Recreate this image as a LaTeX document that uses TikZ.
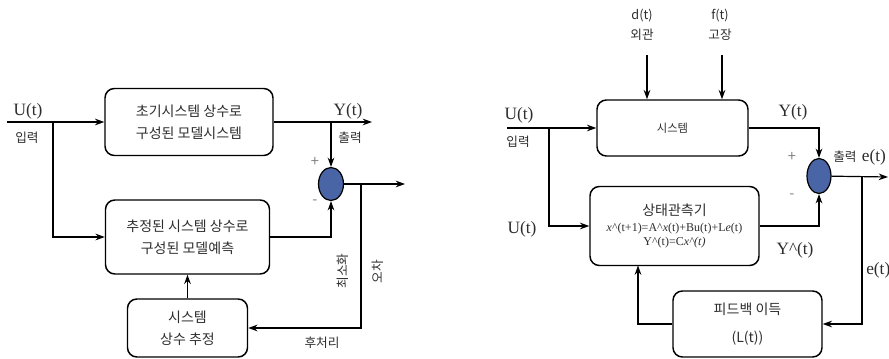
\documentclass[tikz,border=0pt]{standalone}
\usepackage{fontspec}
\setmainfont{Liberation Serif}
\newfontfamily\kfont{Noto Sans CJK KR}
\usepackage{tikz}
\usetikzlibrary{arrows.meta,shapes.geometric,positioning}
\usepackage{xcolor}
\definecolor{sumblue}{RGB}{74,101,166}
\definecolor{inkgray}{RGB}{45,45,45}

\begin{document}
\begin{tikzpicture}[x=0.75pt, y=-0.75pt, >={Stealth[length=7pt,width=5pt]},
  modelbox/.style={draw, line width=1.1pt, rounded corners=7pt, align=center,
    inner sep=0pt, text=inkgray, font=\kfont\fontsize{10.5}{16.5}\selectfont},
  sumnode/.style={draw, ellipse, fill=sumblue, line width=0.9pt, inner sep=0pt},
  sig/.style={inner sep=0pt, text=inkgray, font=\fontsize{13}{15}\selectfont},
  kor/.style={inner sep=0pt, text=inkgray, align=center,
    font=\kfont\fontsize{9.5}{15}\selectfont},
  sign/.style={inner sep=0pt, text=gray, font=\kfont\fontsize{11}{12}\selectfont},
  wire/.style={line width=0.9pt}]
  % Page: 889 x 359 px, one unit = one px
  \useasboundingbox (0,0) rectangle (889,359);

  % ---------------- Left: model based estimation ----------------
  \node[modelbox, minimum width=126pt, minimum height=50.25pt] (init) at (189,122)
    {초기시스템 상수로\\구성된 모델시스템};
  \node[modelbox, minimum width=123pt, minimum height=55.5pt] (est) at (187.5,237)
    {추정된 시스템 상수로\\구성된 모델예측};
  \node[modelbox, minimum width=90pt, minimum height=43.5pt] (par) at (187.5,328)
    {시스템\\상수 추정};
  \node[sumnode, minimum width=18.75pt, minimum height=24.75pt] (sumL) at (331,184) {};

  % Branch points
  \coordinate (inL) at (7,122);
  \coordinate (brU) at (53,122);
  \coordinate (brY) at (331,122);
  \coordinate (outY) at (372,122);
  \coordinate (brE) at (361,184);
  \coordinate (outE) at (405,184);

  % Signals
  \draw[wire,->] (inL) -- (init);
  \draw[wire,->] (init) -- (outY);
  \draw[wire,->] (brY) -- (sumL);
  \draw[wire,->] (brU) |- (est);
  \draw[wire,->] (est) -| (sumL);
  \draw[wire,->] (sumL) -- (outE);
  \draw[wire,->] (brE) |- (par);
  \draw[wire,->] (par) -- (est);

  % Labels
  \node[sig] (uL) at (28,111) {U(t)};
  \node[kor] (inLbl) at (27,138) {입력};
  \node[sig] (yL) at (348,111) {Y(t)};
  \node[kor] (outLbl) at (350,138) {출력};
  \node[sign] (plusL) at (315,162) {+};
  \node[sign] (minusL) at (315,202) {-};
  \node[kor, rotate=90] (minLbl) at (343,271) {최소화};
  \node[kor, rotate=90] (errLbl) at (378,272) {오차};
  \node[kor] (postLbl) at (322,343) {후처리};

  % ---------------- Right: state observer ----------------
  \node[modelbox, minimum width=113.25pt, minimum height=42pt,
    font=\kfont\fontsize{8.5}{10}\selectfont] (sys) at (672.5,128) {시스템};
  \node[modelbox, minimum width=126.75pt, minimum height=59.25pt,
    font=\fontsize{9}{10.5}\selectfont] (obs) at (674.5,226)
    {{\kfont\fontsize{10.5}{12}\selectfont 상태관측기}\\[2pt]
     \textit{x}\textasciicircum(t+1)=A\textasciicircum\textit{x}(t)+Bu(t)+L\textit{e}(t)\\
     Y\textasciicircum(t)=C\textit{x\textasciicircum(t)}};
  \node[modelbox, minimum width=111.75pt, minimum height=49.5pt,
    font=\kfont\fontsize{10.5}{21}\selectfont] (fb) at (747.5,324)
    {피드백 이득\\(L(t))};
  \node[sumnode, minimum width=18pt, minimum height=26.25pt] (sumR) at (819,176) {};

  \coordinate (dTop) at (647,55);
  \coordinate (fTop) at (722,55);
  \coordinate (inR) at (507,128);
  \coordinate (brR) at (549,128);
  \coordinate (brR2) at (862,177);
  \coordinate (outR) at (888,177);
  \coordinate (fbUp) at (638,265.5);

  \draw[wire,->] (dTop) -- (dTop |- sys.north);
  \draw[wire,->] (fTop) -- (fTop |- sys.north);
  \draw[wire,->] (inR) -- (sys);
  \draw[wire,->] (sys) -| (sumR);
  \draw[wire,->] (brR) |- (obs);
  \draw[wire,->] (obs) -| (sumR);
  \draw[wire,->] (sumR) -- (outR);
  \draw[wire,->] (brR2) |- (fb);
  \draw[wire,->] (fb) -| (fbUp);

  \node[kor] (dLbl) at (642,25) {d(t)\\외관};
  \node[kor] (fLbl) at (720,25) {f(t)\\고장};
  \node[sig] (uR) at (519,115) {U(t)};
  \node[kor] (inRLbl) at (518,142) {입력};
  \node[sig] (uR2) at (522,229) {U(t)};
  \node[sig] (yR) at (793,112) {Y(t)};
  \node[sig] (yHat) at (795,250) {Y\textasciicircum(t)};
  \node[sign] (plusR) at (792,157) {+};
  \node[sign] (minusR) at (792,196) {-};
  \node[sig, anchor=west] (outRLbl) at (833,157)
    {{\kfont\fontsize{9.5}{11}\selectfont 출력}\hspace{4pt}e(t)};
  \node[sig, anchor=west] (eLbl) at (866,270) {e(t)};
\end{tikzpicture}
\end{document}
